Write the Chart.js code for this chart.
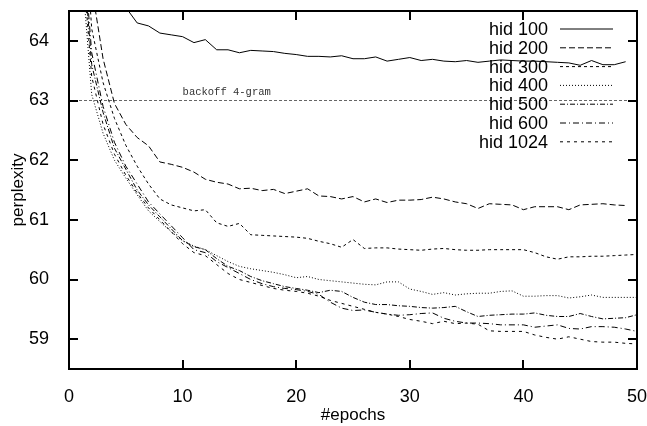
<!DOCTYPE html>
<html>
<head>
<meta charset="utf-8">
<script src="https://cdn.jsdelivr.net/npm/chart.js@4/dist/chart.umd.min.js"></script>
<style>
  html, body { margin: 0; padding: 0; background: #fff; }
  #wrap { position: relative; width: 647px; height: 426px; }
  #frame { position: absolute; border: 2px solid #000; box-sizing: border-box; pointer-events: none; }
</style>
</head>
<body>
<div id="wrap"><canvas id="c" width="647" height="426"></canvas><div id="frame"></div></div>
<script>
// epochs and perplexity per model size
const epochs = [1, 2, 3, 4, 5, 6, 7, 8, 9, 10, 11, 12, 13, 14, 15, 16, 17, 18, 19, 20,
  21, 22, 23, 24, 25, 26, 27, 28, 29, 30, 31, 32, 33, 34, 35, 36, 37, 38, 39, 40,
  41, 42, 43, 44, 45, 46, 47, 48, 49, 50];

const hid100 = [72.0, 67.5, 65.8, 65.0, 64.56, 64.30, 64.25, 64.13, 64.10, 64.07,
  63.97, 64.02, 63.85, 63.85, 63.80, 63.84, 63.83, 63.82, 63.79, 63.77,
  63.74, 63.74, 63.73, 63.75, 63.70, 63.70, 63.73, 63.66, 63.69, 63.72,
  63.67, 63.69, 63.66, 63.65, 63.67, 63.64, 63.66, 63.68, 63.67, 63.66,
  63.66, 63.65, 63.64, 63.63, 63.59, 63.67, 63.60, 63.60, 63.65];

const hid200 = [68.0, 64.9, 63.7, 62.95, 62.6, 62.38, 62.24, 61.97, 61.93, 61.88,
  61.80, 61.68, 61.63, 61.60, 61.52, 61.53, 61.49, 61.51, 61.44, 61.48,
  61.52, 61.40, 61.39, 61.35, 61.39, 61.30, 61.35, 61.29, 61.33, 61.33,
  61.34, 61.38, 61.35, 61.30, 61.27, 61.19, 61.27, 61.26, 61.25, 61.17,
  61.22, 61.22, 61.22, 61.17, 61.25, 61.26, 61.27, 61.25, 61.24];

const hid300 = [67.0, 64.2, 63.3, 62.7, 62.25, 61.9, 61.6, 61.35, 61.25, 61.2,
  61.15, 61.17, 60.95, 60.89, 60.94, 60.75, 60.74, 60.73, 60.72, 60.71,
  60.69, 60.64, 60.60, 60.54, 60.67, 60.52, 60.53, 60.53, 60.51, 60.50,
  60.49, 60.51, 60.52, 60.50, 60.49, 60.49, 60.50, 60.50, 60.50, 60.50,
  60.45, 60.38, 60.34, 60.38, 60.38, 60.39, 60.39, 60.40, 60.41, 60.42];

const hid400 = [65.5, 63.1, 62.45, 62.0, 61.7, 61.42, 61.15, 60.97, 60.8, 60.65,
  60.56, 60.50, 60.40, 60.30, 60.22, 60.18, 60.15, 60.12, 60.08, 60.03,
  60.05, 60.00, 59.98, 59.96, 59.94, 59.92, 59.91, 59.96, 59.96, 59.84,
  59.80, 59.75, 59.78, 59.74, 59.76, 59.77, 59.77, 59.80, 59.81, 59.72,
  59.72, 59.73, 59.73, 59.69, 59.71, 59.74, 59.70, 59.70, 59.70, 59.70];

const hid500 = [66.0, 63.6, 62.8, 62.2, 61.85, 61.5, 61.25, 61.05, 60.85, 60.65,
  60.55, 60.50, 60.35, 60.22, 60.15, 60.05, 59.98, 59.93, 59.88, 59.85,
  59.82, 59.78, 59.82, 59.80, 59.70, 59.62, 59.58, 59.58, 59.56, 59.55,
  59.53, 59.52, 59.53, 59.55, 59.46, 59.38, 59.40, 59.41, 59.42, 59.42,
  59.44, 59.40, 59.38, 59.38, 59.43, 59.38, 59.34, 59.35, 59.36, 59.41];

const hid600 = [66.2, 63.8, 62.9, 62.3, 61.9, 61.6, 61.3, 61.1, 60.9, 60.7,
  60.50, 60.45, 60.30, 60.20, 60.10, 60.00, 59.93, 59.88, 59.85, 59.83,
  59.80, 59.75, 59.62, 59.52, 59.48, 59.49, 59.45, 59.42, 59.40, 59.41,
  59.43, 59.44, 59.35, 59.30, 59.27, 59.27, 59.26, 59.24, 59.24, 59.24,
  59.20, 59.22, 59.24, 59.18, 59.17, 59.21, 59.21, 59.20, 59.17, 59.13];

const hid1024 = [65.8, 63.4, 62.6, 62.1, 61.75, 61.45, 61.2, 61.0, 60.8, 60.6,
  60.45, 60.40, 60.25, 60.10, 60.00, 59.95, 59.90, 59.85, 59.82, 59.80,
  59.77, 59.72, 59.65, 59.60, 59.55, 59.50, 59.45, 59.42, 59.38, 59.33,
  59.30, 59.26, 59.30, 59.26, 59.27, 59.25, 59.14, 59.13, 59.13, 59.13,
  59.07, 59.03, 59.00, 59.04, 59.00, 58.96, 58.95, 58.95, 58.93, 58.92];

const backoff = 63;
const backoffRange = [0, 50];
const xTicks = [0, 10, 20, 30, 40, 50];
const yTicks = [59, 60, 61, 62, 63, 64];

const FONT = '"Liberation Sans", Arial, Helvetica, sans-serif';

// gnuplot-like dash patterns
const series = [
  { label: 'hid 100', values: hid100, dash: [] },
  { label: 'hid 200', values: hid200, dash: [6, 3] },
  { label: 'hid 300', values: hid300, dash: [3, 3] },
  { label: 'hid 400', values: hid400, dash: [1, 2] },
  { label: 'hid 500', values: hid500, dash: [5, 2, 1, 2] },
  { label: 'hid 600', values: hid600, dash: [6, 3, 1, 3] },
  { label: 'hid 1024', values: hid1024, dash: [3, 4] }
];

const datasets = series.map(s => ({
  label: s.label,
  data: s.values.map((v, i) => ({ x: epochs[i], y: v })),
  borderColor: '#000',
  borderWidth: 1,
  borderDash: s.dash,
  pointRadius: 0,
  fill: false,
  tension: 0
}));

datasets.push({
  label: 'backoff 4-gram',
  isRef: true,
  data: backoffRange.map(x => ({ x: x, y: backoff })),
  borderColor: '#666',
  borderWidth: 1,
  borderDash: [3, 2],
  pointRadius: 0,
  fill: false
});

// inward ticks, key and the reference-line label
const gnuplotKey = {
  id: 'gnuplotKey',
  afterDraw(chart) {
    const ctx = chart.ctx;
    const a = chart.chartArea;
    const x = chart.scales.x, y = chart.scales.y;
    ctx.save();
    ctx.setLineDash([]);
    ctx.fillStyle = '#000';
    xTicks.forEach(v => {
      const px = Math.round(x.getPixelForValue(v));
      ctx.fillRect(px - 1, a.bottom - 9, 2, 9);
      ctx.fillRect(px - 1, a.top, 2, 9);
    });
    yTicks.forEach(v => {
      const py = Math.round(y.getPixelForValue(v));
      ctx.fillRect(a.left, py - 1, 9, 2);
      ctx.fillRect(a.right - 9, py - 1, 9, 2);
    });

    ctx.fillStyle = '#333';
    ctx.font = '10.5px "Liberation Mono", "DejaVu Sans Mono", monospace';
    ctx.textAlign = 'left';
    ctx.textBaseline = 'alphabetic';
    ctx.fillText('backoff 4-gram', x.getPixelForValue(10), y.getPixelForValue(backoff) - 6);

    ctx.font = '18px ' + FONT;
    ctx.textAlign = 'right';
    ctx.textBaseline = 'middle';
    ctx.fillStyle = '#000';
    ctx.strokeStyle = '#000';
    const textRight = a.right - 89;
    const sx0 = a.right - 77, sx1 = a.right - 24;
    chart.data.datasets.forEach((ds, i) => {
      if (ds.isRef) return;
      const ry = a.top + 18 + i * 18.8;
      ctx.fillText(ds.label, textRight, ry + 1);
      ctx.beginPath();
      ctx.lineWidth = 1;
      ctx.setLineDash(ds.borderDash);
      ctx.moveTo(sx0, ry); ctx.lineTo(sx1, ry);
      ctx.stroke();
      ctx.setLineDash([]);
    });
    ctx.restore();
  }
};

const chart = new Chart(document.getElementById('c'), {
  type: 'line',
  data: { datasets: datasets },
  options: {
    responsive: false,
    animation: false,
    layout: { padding: { top: 11, right: 10, left: 0, bottom: 0 } },
    plugins: { legend: { display: false }, tooltip: { enabled: false } },
    scales: {
      x: {
        type: 'linear', position: 'bottom', min: 0, max: 50,
        afterBuildTicks: s => { s.ticks = xTicks.map(v => ({ value: v })); },
        afterFit: s => { s.height = 57; s.paddingLeft = 0; s.paddingRight = 0; },
        grid: { display: false },
        border: { display: true, color: '#000', width: 2 },
        ticks: { color: '#000', font: { family: FONT, size: 18 }, padding: 9, maxRotation: 0 },
        title: { display: true, text: '#epochs', color: '#000', font: { family: FONT, size: 17 }, padding: { top: 0, bottom: 0 } }
      },
      x2: {
        type: 'linear', position: 'top', min: 0, max: 50,
        afterBuildTicks: s => { s.ticks = xTicks.map(v => ({ value: v })); },
        afterFit: s => { s.height = 0; s.paddingLeft = 0; s.paddingRight = 0; },
        grid: { display: true, drawOnChartArea: false, drawTicks: false, color: '#000' },
        border: { display: true, color: '#000', width: 2 },
        ticks: { display: false }
      },
      y: {
        type: 'linear', position: 'left', min: 58.5, max: 64.5,
        afterBuildTicks: s => { s.ticks = yTicks.map(v => ({ value: v })); },
        afterFit: s => { s.width = 69; s.paddingTop = 0; s.paddingBottom = 0; },
        grid: { display: false },
        border: { display: true, color: '#000', width: 2 },
        ticks: { color: '#000', font: { family: FONT, size: 18 }, padding: 12 },
        title: { display: true, text: 'perplexity', color: '#000', font: { family: FONT, size: 17 }, padding: { top: 8, bottom: 0 } }
      },
      y2: {
        type: 'linear', position: 'right', min: 58.5, max: 64.5,
        afterBuildTicks: s => { s.ticks = yTicks.map(v => ({ value: v })); },
        afterFit: s => { s.width = 0; s.paddingTop = 0; s.paddingBottom = 0; },
        grid: { display: true, drawOnChartArea: false, drawTicks: false, color: '#000' },
        border: { display: true, color: '#000', width: 2 },
        ticks: { display: false }
      }
    }
  },
  plugins: [gnuplotKey]
});

// plot frame placed on the chart area the library computed
const area = chart.chartArea;
const frame = document.getElementById('frame');
frame.style.left = (area.left - 1) + 'px';
frame.style.top = (area.top - 1) + 'px';
frame.style.width = (area.right - area.left + 2) + 'px';
frame.style.height = (area.bottom - area.top + 2) + 'px';
</script>
</body>
</html>
